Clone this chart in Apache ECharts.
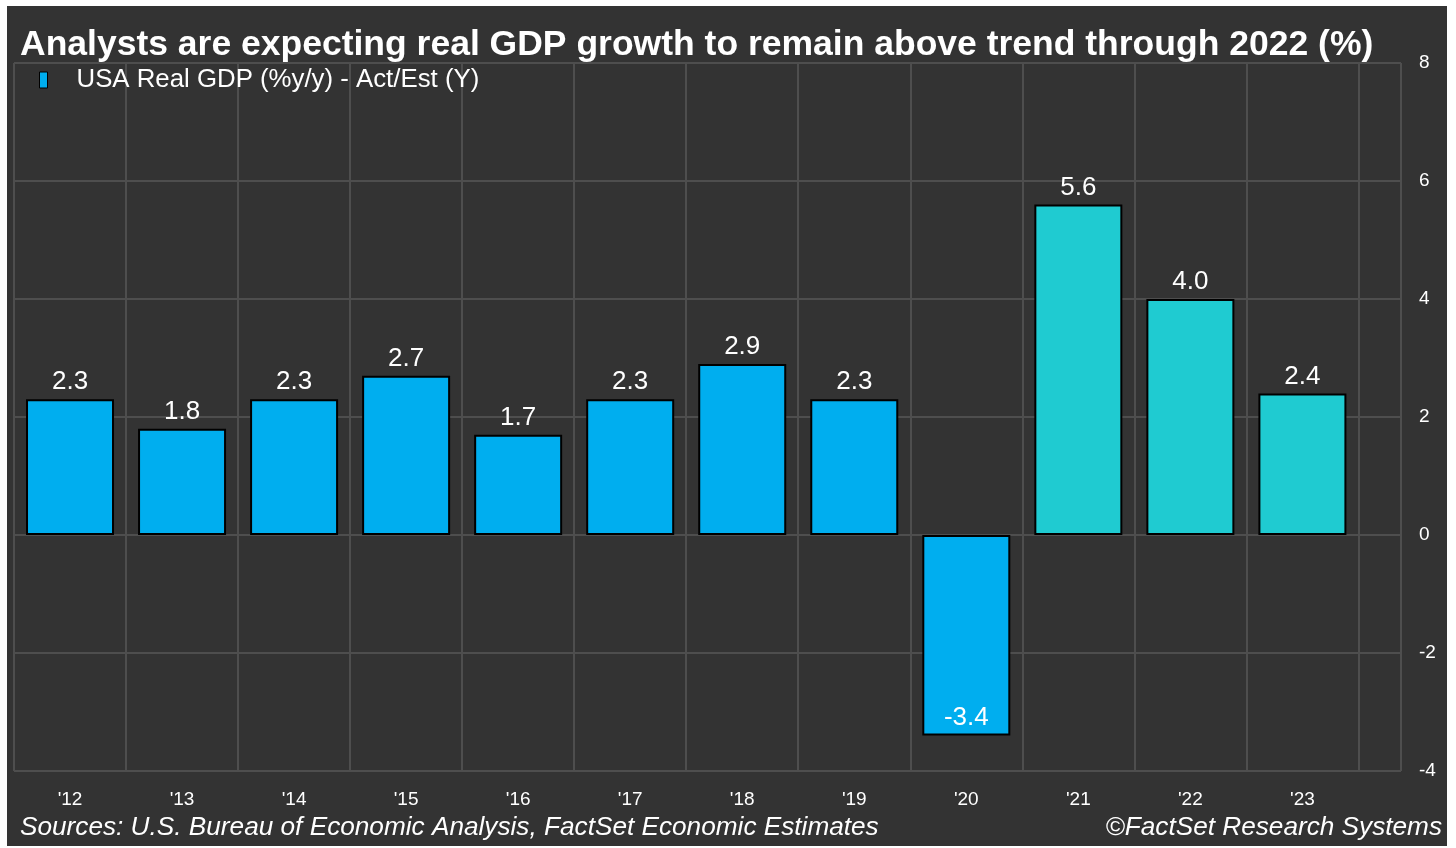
<!DOCTYPE html>
<html>
<head>
<meta charset="utf-8">
<script src="https://cdn.jsdelivr.net/npm/echarts@6/dist/echarts.min.js"></script>
<style>
  html, body { margin: 0; padding: 0; background: #ffffff; }
  #chart { position: absolute; left: 7px; top: 6px; width: 1440px; height: 840px; }
</style>
</head>
<body>
<div id="chart"></div>
<script>
// ---- data ----
const categories = ["'12", "'13", "'14", "'15", "'16", "'17", "'18", "'19", "'20", "'21", "'22", "'23"];
const gdpValues = [2.3, 1.8, 2.3, 2.7, 1.7, 2.3, 2.9, 2.3, -3.4, 5.6, 4.0, 2.4];
const kind = ['A', 'A', 'A', 'A', 'A', 'A', 'A', 'A', 'A', 'E', 'E', 'E']; // A = actual, E = estimate
const yTicks = [-4, -2, 0, 2, 4, 6, 8];

const titleText = 'Analysts are expecting real GDP growth to remain above trend through 2022 (%)';
const seriesName = 'USA Real GDP (%y/y) - Act/Est (Y)';
const sourceText = 'Sources: U.S. Bureau of Economic Analysis, FactSet Economic Estimates';
const copyrightText = '\u00A9FactSet Research Systems';

// ---- styling ----
const FONT = '"Liberation Sans", Arial, sans-serif';
const BLUE = '#00AEEF';
const TEAL = '#1FCBD1';
const GRID = '#4e4e4e';

const chart = echarts.init(document.getElementById('chart'), null, { renderer: 'canvas' });

const barData = gdpValues.map((v, i) => ({
  value: [i + 0.5, v],
  itemStyle: { color: kind[i] === 'E' ? TEAL : BLUE },
  label: v < 0 ? { position: 'insideBottom', distance: 5 } : { position: 'top', distance: 4 }
}));

const option = {
  backgroundColor: '#333333',
  animation: false,
  title: [
    {
      text: titleText, left: 8, top: 16,
      textStyle: { color: '#ffffff', fontFamily: FONT, fontWeight: 'bold', fontSize: 35.5 }
    },
    {
      text: sourceText, left: 8, top: 804,
      textStyle: { color: '#ffffff', fontFamily: FONT, fontStyle: 'italic', fontWeight: 'normal', fontSize: 26.2 }
    },
    {
      text: copyrightText, right: 0, top: 804,
      textStyle: { color: '#ffffff', fontFamily: FONT, fontStyle: 'italic', fontWeight: 'normal', fontSize: 26.2 }
    }
  ],
  legend: {
    left: 27, top: 56,
    icon: 'rect', itemWidth: 8, itemHeight: 16,
    itemStyle: { borderColor: '#000', borderWidth: 1 },
    textStyle: { color: '#ffffff', fontFamily: FONT, fontSize: 25.8, padding: [0, 0, 0, 24] },
    data: [seriesName]
  },
  grid: { left: 7, right: 46, top: 57, bottom: 75, containLabel: false },
  xAxis: {
    type: 'value',
    min: 0,
    max: 12.38,
    interval: 1,
    axisLine: { show: false },
    axisTick: { show: true, inside: false, length: 13, lineStyle: { color: GRID, width: 2 } },
    splitLine: { show: true, lineStyle: { color: GRID, width: 2 } },
    axisLabel: {
      customValues: categories.map((c, i) => i + 0.5),
      formatter: v => categories[Math.floor(v)] || '',
      color: '#ffffff', fontFamily: FONT, fontSize: 19, margin: 19
    }
  },
  yAxis: {
    type: 'value',
    position: 'right',
    min: yTicks[0],
    max: yTicks[yTicks.length - 1],
    interval: 2,
    axisLine: { show: false },
    axisTick: { show: true, inside: false, length: 14, lineStyle: { color: GRID, width: 2 } },
    splitLine: { show: true, lineStyle: { color: GRID, width: 2 } },
    axisLabel: { color: '#ffffff', fontFamily: FONT, fontSize: 19, margin: 18, align: 'left' }
  },
  series: [{
    name: seriesName,
    type: 'bar',
    barWidth: 88,
    itemStyle: { color: BLUE, borderColor: '#000000', borderWidth: 2 },
    label: {
      show: true,
      color: '#ffffff', fontFamily: FONT, fontSize: 26,
      formatter: p => p.value[1].toFixed(1)
    },
    data: barData
  }]
};

chart.setOption(option);
</script>
</body>
</html>
